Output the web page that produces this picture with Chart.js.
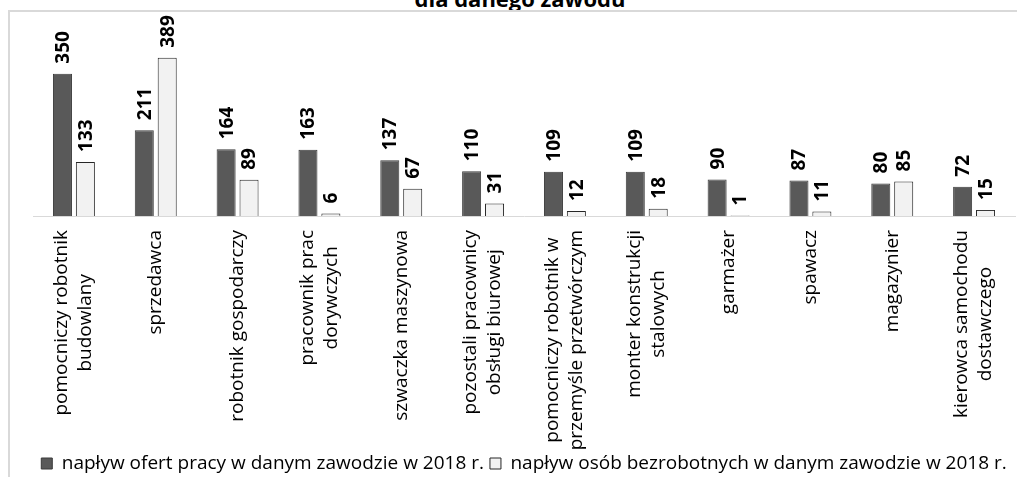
<!DOCTYPE html>
<html><head><meta charset="utf-8">
<script src="https://cdn.jsdelivr.net/npm/chart.js@4/dist/chart.umd.min.js"></script>
<style>
body{margin:0;background:#fff;font-family:"Open Sans",sans-serif}
#wrap{position:relative;width:1017px;height:477px;overflow:hidden}
#ttl{position:absolute;left:0;width:1040px;top:-14px;text-align:center;font:bold 22px "Open Sans";line-height:24px;color:#000}
#frame{position:absolute;left:8px;top:10px;width:1020px;height:480px;border-left:2px solid #d9d9d9;border-top:2px solid #d9d9d9}
#box{position:absolute;left:10px;top:12px;width:1010px;height:471px}
</style></head><body>
<div id="wrap">
  <div id="ttl">dla danego zawodu</div>
  <div id="frame"></div>
  <div id="box"><canvas id="ch"></canvas></div>
</div>
<script>
const categories=[['pomocniczy robotnik','budowlany'],['sprzedawca'],['robotnik gospodarczy'],['pracownik prac','dorywczych'],['szwaczka maszynowa'],['pozostali pracownicy','obsługi biurowej'],['pomocniczy robotnik w','przemyśle przetwórczym'],['monter konstrukcji','stalowych'],['garmażer'],['spawacz'],['magazynier'],['kierowca samochodu','dostawczego']];
const seriesNames=['napływ ofert pracy w danym zawodzie w 2018 r.','napływ osób bezrobotnych w danym zawodzie w 2018 r.'];
const ofertyValues=[350,211,164,163,137,110,109,109,90,87,80,72];
const bezrobotniValues=[133,389,89,6,67,31,12,18,1,11,85,15];

// value labels above bars, rotated
const valueLabels={id:'valueLabels',afterDatasetsDraw(chart){
  const c=chart.ctx;c.save();
  c.font='bold 19px "Open Sans"';c.fillStyle='#000';c.textAlign='left';c.textBaseline='middle';
  chart.data.datasets.forEach((ds,di)=>{
    chart.getDatasetMeta(di).data.forEach((bar,i)=>{
      c.save();c.translate(bar.x,bar.y-10);c.rotate(-Math.PI/2);c.fillText(String(ds.data[i]),0,1);c.restore();
    });
  });
  c.restore();
}};
// category labels under axis, rotated, lines centred on each other
const catLabels={id:'catLabels',afterDraw(chart){
  const c=chart.ctx,xs=chart.scales.x;c.save();
  c.font='19px "Open Sans"';c.fillStyle='#000';c.textBaseline='middle';c.textAlign='center';
  const lh=24;
  categories.forEach((lines,i)=>{
    const x=xs.getPixelForTick(i);
    const w=Math.max(...lines.map(l=>c.measureText(l).width));
    const top=chart.chartArea.bottom+14;
    lines.forEach((l,k)=>{
      const lx=x+(k-(lines.length-1)/2)*lh;
      c.save();c.translate(lx,top+w/2);c.rotate(-Math.PI/2);c.fillText(l,0,0);c.restore();
    });
  });
  c.restore();
}};

new Chart(document.getElementById('ch').getContext('2d'),{type:'bar',
  data:{labels:categories.map(l=>l.join(' ')),datasets:[
    {label:seriesNames[0],data:ofertyValues,backgroundColor:'#595959',borderColor:'#3a3a3a',borderWidth:1,categoryPercentage:0.56,barPercentage:0.83},
    {label:seriesNames[1],data:bezrobotniValues,backgroundColor:'#f2f2f2',borderColor:'#262626',borderWidth:1,categoryPercentage:0.56,barPercentage:0.83}
  ]},
  options:{responsive:true,maintainAspectRatio:false,animation:false,
    layout:{padding:{left:23,right:5,top:21,bottom:0}},
    plugins:{tooltip:{enabled:false},
      legend:{position:'bottom',labels:{color:'#000',font:{family:'"Open Sans"',size:19},boxWidth:11,boxHeight:11,padding:6}}},
    scales:{
      x:{grid:{display:false},border:{display:true,color:'#d9d9d9',width:1},ticks:{display:false},afterFit(s){s.height=232}},
      y:{display:false,min:0,max:450}
    }},
  plugins:[valueLabels,catLabels]});
</script>
</body></html>
